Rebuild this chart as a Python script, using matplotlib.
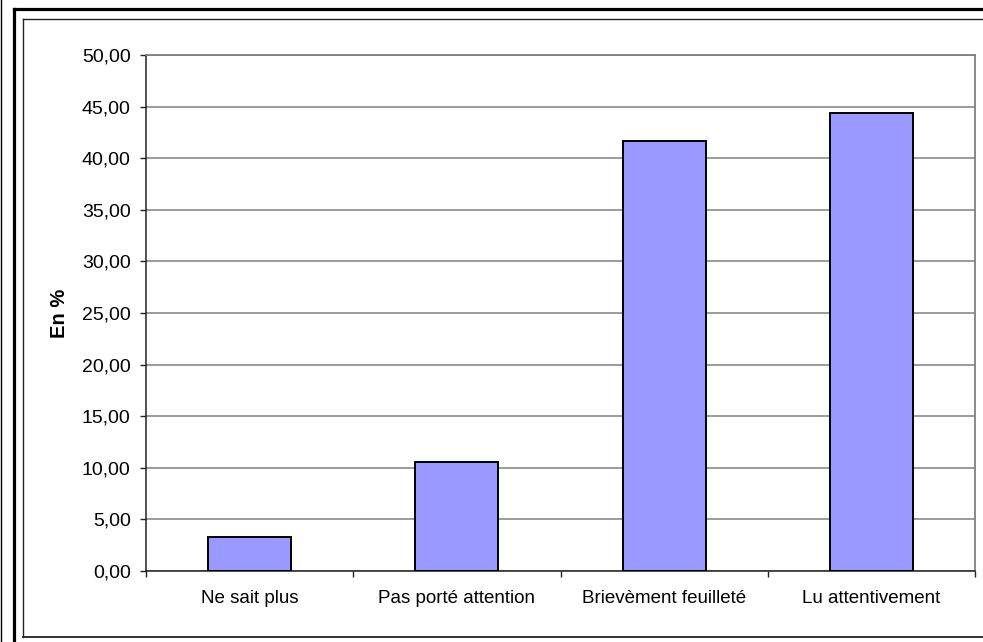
import matplotlib.pyplot as plt
from matplotlib.lines import Line2D
from matplotlib.ticker import FuncFormatter, MultipleLocator

categories = ["Ne sait plus", "Pas porté attention", "Brievèment feuilleté", "Lu attentivement"]
values = [3.30, 10.60, 41.70, 44.40]

W, H = 983, 642
plt.rcParams['font.family'] = ['Liberation Sans', 'DejaVu Sans']

fig = plt.figure(figsize=(W / 100, H / 100), dpi=100)
ax = fig.add_axes([146 / W, 1 - 571 / H, (975 - 146) / W, (571 - 55) / H])

x = list(range(len(categories)))
ax.bar(x, values, width=0.4, color="#9999FF", edgecolor="black", linewidth=1.4, zorder=3)

ax.set_xlim(-0.5, 3.5)
ax.set_ylim(0, 50)
ax.yaxis.set_major_locator(MultipleLocator(5))
ax.yaxis.set_major_formatter(FuncFormatter(lambda v, p: f"{v:.2f}".replace(".", ",")))
ax.grid(axis="y", color="#808080", linewidth=1.1, zorder=0)

ax.set_xticks(x)
ax.set_xticklabels(categories)
ax.set_xticks([-0.5, 0.5, 1.5, 2.5, 3.5], minor=True)
ax.tick_params(axis="x", which="major", length=0, pad=14, labelsize=13.5)
ax.tick_params(axis="x", which="minor", length=4, width=1, color="#222222", direction="out")
ax.tick_params(axis="y", length=4, width=1, color="#222222", pad=7, labelsize=14)

ax.set_ylabel("En %", fontsize=14.5, fontweight="bold", labelpad=9)

for side in ["top", "right"]:
    ax.spines[side].set_color("#808080")
    ax.spines[side].set_linewidth(1.3)
for side in ["left", "bottom"]:
    ax.spines[side].set_color("#222222")
    ax.spines[side].set_linewidth(1.1)


def px(xp, yp):
    return xp / W, 1 - yp / H


# outer frames
for (x0, y0), (x1, y1), lw, col in [
    ((13.5, 660), (13.5, 9), 2.3, "black"),
    ((13.5, 9), (1000, 9), 2.3, "black"),
    ((1, 0), (1, 660), 1.0, "black"),
    ((23, 637), (23, 19), 1.0, "#222222"),
    ((23, 19), (1000, 19), 1.0, "#222222"),
    ((23, 637), (1000, 637), 1.3, "#222222"),
]:
    a, b = px(x0, y0)
    c, d = px(x1, y1)
    fig.add_artist(Line2D([a, c], [b, d], transform=fig.transFigure, linewidth=lw, color=col))

fig.savefig("out.png", dpi=100)
